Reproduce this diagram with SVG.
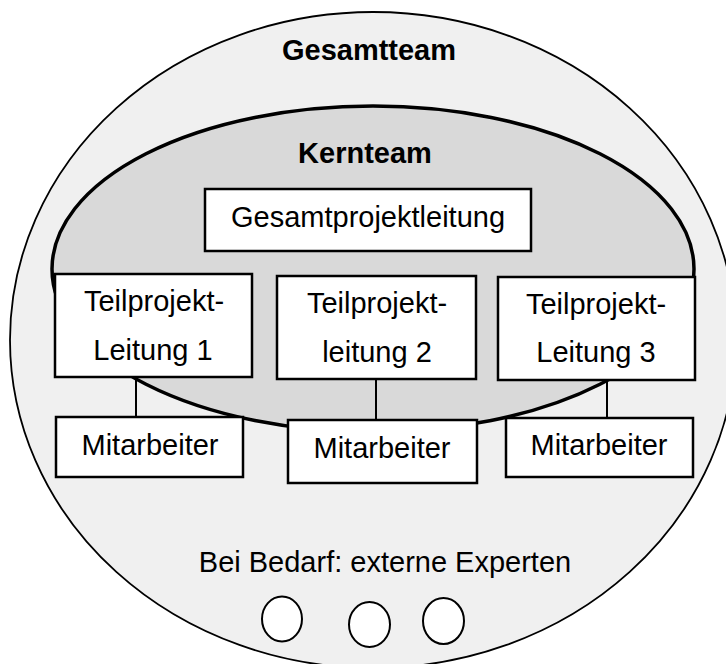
<svg xmlns="http://www.w3.org/2000/svg" width="726" height="664" viewBox="0 0 726 664">
<style>
text{font-family:"Liberation Sans",Arial,Helvetica,sans-serif;font-size:29px;fill:#000;text-anchor:middle}
.b{font-weight:bold}
.box{fill:#fff;stroke:#000;stroke-width:2.5}
.con{stroke:#000;stroke-width:2;fill:none}
.exp{fill:#fff;stroke:#000;stroke-width:2}
</style>
<rect width="726" height="664" fill="#fff"/>
<g id="gesamtteam">
<ellipse cx="373" cy="340" rx="363" ry="328" fill="#f0f0f0" stroke="#000" stroke-width="1.8"/>
<text class="b" x="369" y="60">Gesamtteam</text>
</g>
<g id="kernteam">
<ellipse cx="373" cy="269" rx="321" ry="163" fill="#d9d9d9" stroke="#000" stroke-width="3.5"/>
<text class="b" x="365" y="163">Kernteam</text>
</g>
<g id="connectors">
<line class="con" x1="136" y1="377" x2="136" y2="418"/>
<line class="con" x1="376" y1="379" x2="376" y2="421"/>
<line class="con" x1="607" y1="380" x2="607" y2="419"/>
</g>
<g id="gpl">
<rect class="box" x="205" y="189" width="326" height="62"/>
<text x="368" y="227">Gesamtprojektleitung</text>
</g>
<g id="tpl1">
<rect class="box" x="55" y="274" width="197" height="103"/>
<text x="154" y="311">Teilprojekt-</text>
<text x="153" y="360">Leitung 1</text>
</g>
<g id="tpl2">
<rect class="box" x="277" y="276" width="199" height="103"/>
<text x="377" y="313">Teilprojekt-</text>
<text x="377" y="362">leitung 2</text>
</g>
<g id="tpl3">
<rect class="box" x="498" y="277" width="197" height="103"/>
<text x="596" y="314">Teilprojekt-</text>
<text x="596" y="362">Leitung 3</text>
</g>
<g id="ma1">
<rect class="box" x="56" y="417" width="187" height="60"/>
<text x="150" y="455">Mitarbeiter</text>
</g>
<g id="ma2">
<rect class="box" x="288" y="420" width="189" height="63"/>
<text x="382" y="458">Mitarbeiter</text>
</g>
<g id="ma3">
<rect class="box" x="506" y="418" width="187" height="59"/>
<text x="599" y="455">Mitarbeiter</text>
</g>
<g id="experten">
<text x="385" y="572">Bei Bedarf: externe Experten</text>
<ellipse class="exp" cx="282" cy="619" rx="20" ry="22.5"/>
<ellipse class="exp" cx="369.5" cy="624.5" rx="20.5" ry="22.5"/>
<ellipse class="exp" cx="443.5" cy="621" rx="20.5" ry="23"/>
</g>
</svg>
